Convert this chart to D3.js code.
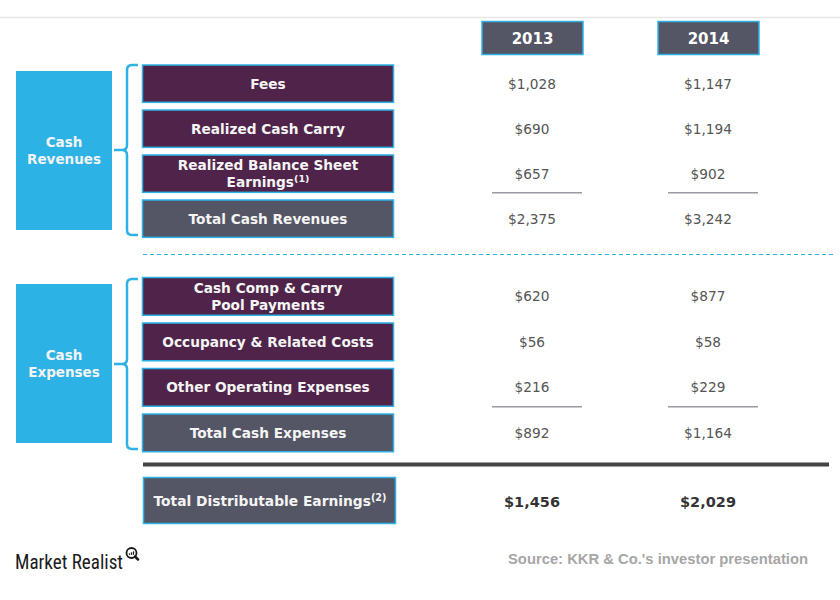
<!DOCTYPE html>
<html><head><meta charset="utf-8">
<script src="https://cdn.jsdelivr.net/npm/d3@7"></script>
<style>body{margin:0;background:#fff}svg{display:block}</style>
</head><body><svg id="c" width="840" height="600"></svg>
<script>
const years = ["2013", "2014"];
const revenueRows = ["Fees", "Realized Cash Carry", "Realized Balance Sheet|Earnings^(1)", "Total Cash Revenues"];
const revenue2013 = [1028, 690, 657, 2375];
const revenue2014 = [1147, 1194, 902, 3242];
const expenseRows = ["Cash Comp & Carry|Pool Payments", "Occupancy & Related Costs", "Other Operating Expenses", "Total Cash Expenses"];
const expense2013 = [620, 56, 216, 892];
const expense2014 = [877, 58, 229, 1164];
const totalLabel = "Total Distributable Earnings^(2)";
const total2013 = 1456;
const total2014 = 2029;
const groupLabels = ["Cash|Revenues", "Cash|Expenses"];

const BLUE = "#2db2e6", PURPLE = "#50244a", SLATE = "#545565", TXT = "#555555";
const FONT = "'DejaVu Sans', Verdana, sans-serif";
const svg = d3.select("#c");
const fmt = v => "$" + d3.format(",")(v);

const x = d3.scalePoint().domain(years).range([532, 708]);
const colW = 101;

// top rule
svg.append("line").attr("x1",0).attr("x2",840).attr("y1",17.5).attr("y2",17.5).attr("stroke","#e6e6e6").attr("stroke-width",1.5);

// year headers
years.forEach(yr => {
  svg.append("rect").attr("x", x(yr)-colW/2+0.5).attr("y",21.5).attr("width",colW).attr("height",33)
    .attr("fill",SLATE).attr("stroke",BLUE).attr("stroke-width",1.5);
  svg.append("text").attr("x", x(yr)+0.5).attr("y",38.5).attr("dy","0.36em").attr("text-anchor","middle")
    .attr("font-family",FONT).attr("font-weight","bold").attr("font-size",15).attr("fill","#fff").text(yr);
});

function addLabel(g, cx, cy, label, size, lhf) {
  const lines = label.split("|");
  const lh = size*lhf;
  lines.forEach((ln, i) => {
    const t = g.append("text").attr("x",cx).attr("y", cy + (i-(lines.length-1)/2)*lh).attr("dy","0.36em")
      .attr("text-anchor","middle").attr("font-family",FONT).attr("font-weight","bold").attr("font-size",size).attr("fill","#f4f4f4");
    const parts = ln.split("^");
    t.append("tspan").text(parts[0]);
    if (parts[1]) t.append("tspan").attr("font-size",size*0.7).attr("dy","-0.55em").text(parts[1]);
  });
}

function section(rows, v13, v14, y0, step, group, boxY, boxH, braceTop, braceBot) {
  const pad = 0.17;
  const y = d3.scaleBand().domain(rows).range([y0, y0 + step*(rows.length - pad)]).paddingInner(pad).paddingOuter(0);
  const g = svg.append("g");
  // group box
  g.append("rect").attr("x",16).attr("y",boxY).attr("width",96).attr("height",boxH).attr("fill",BLUE);
  addLabel(g, 64, boxY + boxH/2, group, 13.5, 1.27);
  // brace
  const mid = (braceTop+braceBot)/2, bx = 127, r = 5;
  const p = `M138,${braceTop} H${bx+r} Q${bx},${braceTop} ${bx},${braceTop+r} V${mid-r} Q${bx},${mid} ${bx-r},${mid} H114 M${bx-r},${mid} Q${bx},${mid} ${bx},${mid+r} V${braceBot-r} Q${bx},${braceBot} ${bx+r},${braceBot} H138`;
  g.append("path").attr("d",p).attr("fill","none").attr("stroke",BLUE).attr("stroke-width",2.5);
  rows.forEach((r, i) => {
    const isTotal = i === rows.length-1;
    g.append("rect").attr("x",142.5).attr("y",y(r)).attr("width",251).attr("height",y.bandwidth())
      .attr("fill", isTotal ? SLATE : PURPLE).attr("stroke",BLUE).attr("stroke-width",1.5);
    addLabel(g, 268, y(r)+y.bandwidth()/2, r, 13.7, 1.2);
    [v13, v14].forEach((vals, j) => {
      g.append("text").attr("x", x(years[j])).attr("y", y(r)+y.bandwidth()/2).attr("dy","0.36em")
        .attr("text-anchor","middle").attr("font-family",FONT).attr("font-size",13.7).attr("fill",TXT).text(fmt(vals[i]));
    });
  });
  // underline before totals
  const last = rows[rows.length-2];
  years.forEach(yr => {
    g.append("line").attr("x1", x(yr)-40).attr("x2", x(yr)+50).attr("y1", y(last)+y.bandwidth()+0.5).attr("y2", y(last)+y.bandwidth()+0.5)
      .attr("stroke","#9a9aa2").attr("stroke-width",1.5);
  });
}

section(revenueRows, revenue2013, revenue2014, 65, 45, groupLabels[0], 71, 159, 65, 235);
svg.append("line").attr("x1",143).attr("x2",834).attr("y1",254.5).attr("y2",254.5)
  .attr("stroke",BLUE).attr("stroke-width",1).attr("stroke-dasharray","4,3");
section(expenseRows, expense2013, expense2014, 277.5, 45.5, groupLabels[1], 284, 159, 279, 449);

// thick rule
svg.append("line").attr("x1",143).attr("x2",829).attr("y1",464.5).attr("y2",464.5).attr("stroke","#444444").attr("stroke-width",4);

// total distributable
const tg = svg.append("g");
tg.append("rect").attr("x",143.5).attr("y",477.5).attr("width",252).attr("height",46).attr("fill",SLATE).attr("stroke",BLUE).attr("stroke-width",1.5);
addLabel(tg, 270, 501.5, totalLabel, 13.8, 1.2);
[total2013, total2014].forEach((v, j) => {
  tg.append("text").attr("x", x(years[j])).attr("y",501.5).attr("dy","0.36em").attr("text-anchor","middle")
    .attr("font-family",FONT).attr("font-weight","bold").attr("font-size",14.5).attr("fill","#333").text(fmt(v));
});

// footer
svg.append("text").attr("x",15).attr("y",569).attr("font-family","'Liberation Sans Narrow','Roboto Condensed','Liberation Sans',sans-serif")
  .attr("font-size",21).attr("fill","#1a1a1a").attr("textLength",108).attr("lengthAdjust","spacingAndGlyphs").text("Market Realist");
const ic = svg.append("g").attr("transform","translate(131.5,553)");
ic.append("circle").attr("r",5).attr("fill","none").attr("stroke","#1a1a1a").attr("stroke-width",1.8);
ic.append("line").attr("x1",3.5).attr("y1",3.5).attr("x2",6.5).attr("y2",6.5).attr("stroke","#1a1a1a").attr("stroke-width",2.5).attr("stroke-linecap","round");
[[-2,1,1.5],[0,0,2.5],[2,-1,3.5]].forEach(([bx,_,h]) => {
  ic.append("rect").attr("x",bx-0.6).attr("y",1.8-h).attr("width",1.2).attr("height",h).attr("fill","#1a1a1a");
});
svg.append("text").attr("x",508).attr("y",564).attr("font-family","'Liberation Sans',Arial,sans-serif").attr("font-weight","bold")
  .attr("font-size",15).attr("fill","#a6a6a6").attr("textLength",300).attr("lengthAdjust","spacingAndGlyphs").text("Source: KKR & Co.'s investor presentation");
</script></body></html>
